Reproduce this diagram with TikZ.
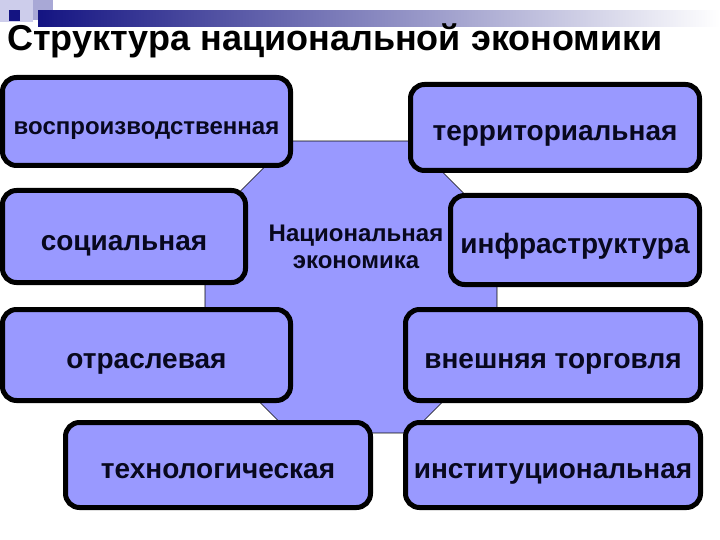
\documentclass[tikz,border=0pt]{standalone}
\usepackage{fontspec}
\setmainfont{Liberation Sans}
\usetikzlibrary{
    positioning,
    shapes.geometric
}
\definecolor{ink}{RGB}{8,8,30}
\definecolor{facetfill}{RGB}{153,153,255}
\definecolor{navy}{RGB}{20,20,130}
\definecolor{paleblue}{RGB}{205,205,235}
\tikzset{
    line join=round,
    facet/.style={
        rectangle,
        draw=black,
        line width=5pt,
        rounded corners=14pt,
        fill=facetfill,
        text=ink,
        font=\fontsize{28}{32}\selectfont\bfseries,
        inner sep=0pt,
        text height=27pt,
        text depth=0pt,
        align=center
    },
    core/.style={
        regular polygon,
        regular polygon sides=8,
        minimum size=316pt,
        inner sep=0pt,
        draw=black,
        line width=0.6pt,
        fill=facetfill
    },
    coretext/.style={
        font=\fontsize{24}{27}\selectfont\bfseries,
        text=ink,
        align=center
    },
    slidetitle/.style={
        font=\fontsize{36}{40}\selectfont\bfseries,
        text=black,
        anchor=base west,
        inner sep=0pt
    }
}

\begin{document}
\begin{tikzpicture}[x=1pt, y=-1pt]
\useasboundingbox[fill=white] (0,0) rectangle (720,540);

% Slide decoration
\fill[paleblue] (0,0) rectangle (33,22);
\fill[paleblue!80!navy] (33,0) rectangle (53,20);
\shade[left color=navy, right color=white] (38,11) rectangle (720,27);
\fill[navy] (9,10) rectangle (20,21);

% Title
\node[slidetitle] (title) at (7,51) {Структура национальной экономики};

% Centre
\node[core] (centre) at (351,287) {};
\node[coretext] (centretext) at (356,247) {Национальная\\экономика};

% Left column
\node[facet, minimum width=288pt, minimum height=88pt, font=\fontsize{24}{28}\selectfont\bfseries] (repro) at (146.5,121.5) {воспроизводственная};
\node[facet, minimum width=243pt, minimum height=92pt] (social) at (124,236.5) {социальная};
\node[facet, minimum width=288pt, minimum height=91pt] (sector) at (146.5,355) {отраслевая};
\node[facet, minimum width=305pt, minimum height=85pt] (techno) at (218,465) {технологическая};

% Right column
\node[facet, minimum width=289pt, minimum height=86pt] (territory) at (555,127.5) {территориальная};
\node[facet, minimum width=249pt, minimum height=89pt] (infra) at (575,240) {инфраструктура};
\node[facet, minimum width=295pt, minimum height=91pt] (trade) at (553,355) {внешняя торговля};
\node[facet, minimum width=295pt, minimum height=85pt] (institute) at (553,465) {институциональная};
\end{tikzpicture}
\end{document}
